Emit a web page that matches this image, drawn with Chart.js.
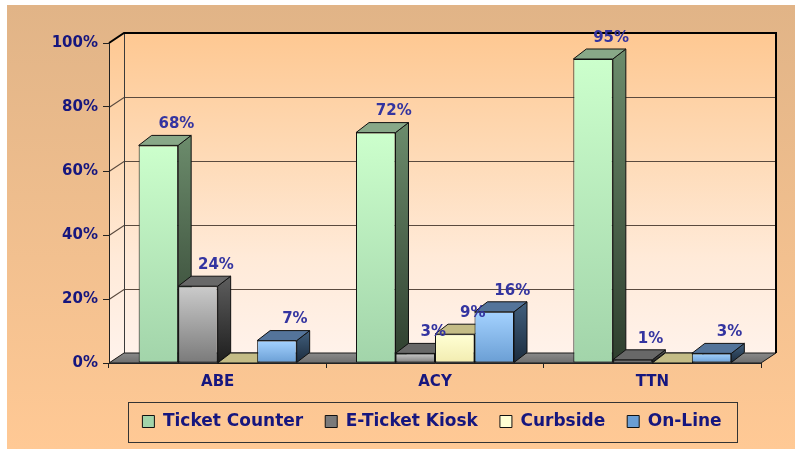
<!DOCTYPE html>
<html><head><meta charset="utf-8">
<script src="https://cdn.jsdelivr.net/npm/chart.js@4.4.1/dist/chart.umd.min.js"></script>
<style>html,body{margin:0;padding:0;background:#fff;overflow:hidden;}</style>
</head><body>
<canvas id="c" width="798" height="449" style="display:block;width:798px;height:449px"></canvas>
<script>
// ---- data ----
const categories = ['ABE', 'ACY', 'TTN'];
const seriesNames = ['Ticket Counter', 'E-Ticket Kiosk', 'Curbside', 'On-Line'];
const ticketCounter = [68, 72, 95];
const eTicketKiosk = [24, 3, 1];
const curbside = [0, 9, 0];
const onLine = [7, 16, 3];
const yTickValues = [0, 20, 40, 60, 80, 100];

// ---- styles ----
const NAVY = '#16167e';
const LABEL = '#3434a0';
const FONT = 'DejaVu Sans';
const styles = [
  {front: ['#CCFFCC', '#A2D4AA'], side: ['#6C8C6C', '#2E3E2E'], top: '#88A888', legend: '#C4F2C4'},
  {front: ['#CBCBCB', '#7A7A7A'], side: ['#5E5E5E', '#1E1E1E'], top: '#686868', legend: '#8E8E8E'},
  {front: ['#FFFFD4', '#F2ECB0'], side: ['#B4AC72', '#6E6A40'], top: '#C4BC86', legend: '#FFFFC4'},
  {front: ['#A4D2FF', '#6A9ED4'], side: ['#42607E', '#1C2C3E'], top: '#54749A', legend: '#7CB2E6'}
];
const WDX = 15, WDY = 10;   // wall depth
const BDX = 13, BDY = 10;   // bar depth

function frontFill(c, d) {
  const st = styles[d];
  if (c.type !== 'data') return st.legend;
  const chart = c.chart, ys = chart.scales.y;
  if (!ys || !chart.chartArea) return st.front[0];
  const top = ys.getPixelForValue(c.raw), bot = ys.getPixelForValue(0);
  if (bot - top < 1) return st.front[0];
  const g = chart.ctx.createLinearGradient(0, top, 0, bot);
  g.addColorStop(0, st.front[0]); g.addColorStop(1, st.front[1]);
  return g;
}

const seriesData = [ticketCounter, eTicketKiosk, curbside, onLine];
const datasets = seriesNames.map((name, d) => ({
  label: name,
  data: seriesData[d],
  backgroundColor: (c) => frontFill(c, d),
  borderColor: '#111',
  borderWidth: 1,
  borderSkipped: false,
  barPercentage: 1,
  categoryPercentage: 0.727
}));

const bgPlugin = {
  id: 'scene3d',
  beforeDraw(chart) {
    const ctx = chart.ctx, ca = chart.chartArea, ys = chart.scales.y;
    ctx.save();
    // page background
    const bg = ctx.createLinearGradient(0, 5, 0, 449);
    bg.addColorStop(0, '#E1B487'); bg.addColorStop(1, '#FFC995');
    ctx.fillStyle = bg;
    ctx.fillRect(7, 5, 788, 444);

    const y0 = ys.getPixelForValue(0), y100 = ys.getPixelForValue(100);
    const L = ca.left, R = ca.right;
    // back wall
    const wg = ctx.createLinearGradient(0, y100 - WDY, 0, y0 - WDY);
    wg.addColorStop(0, '#FEC892'); wg.addColorStop(0.4, '#FEDBB8');
    wg.addColorStop(0.7, '#FFEAD8'); wg.addColorStop(1, '#FFF2EA');
    ctx.fillStyle = wg;
    ctx.fillRect(L + WDX, y100 - WDY, R - L, y0 - y100);
    // left wall
    ctx.beginPath();
    ctx.moveTo(L, y100); ctx.lineTo(L + WDX, y100 - WDY);
    ctx.lineTo(L + WDX, y0 - WDY); ctx.lineTo(L, y0); ctx.closePath();
    ctx.fill();
    // gridlines
    ctx.lineWidth = 1.2;
    ctx.strokeStyle = '#5a4a3e';
    yTickValues.forEach(v => {
      if (v === 0 || v === 100) return;
      const yp = Math.round(ys.getPixelForValue(v)) + 0.5;
      ctx.beginPath();
      ctx.moveTo(L, yp); ctx.lineTo(L + WDX, yp - WDY); ctx.lineTo(R + WDX, yp - WDY);
      ctx.stroke();
    });
    // back wall left edge
    ctx.strokeStyle = '#3a3a3a';
    ctx.lineWidth = 1;
    ctx.beginPath();
    ctx.moveTo(L + WDX + 0.5, y100 - WDY); ctx.lineTo(L + WDX + 0.5, y0 - WDY);
    ctx.stroke();
    // floor
    const fg = ctx.createLinearGradient(0, y0 - WDY, 0, y0);
    fg.addColorStop(0, '#8a8a8a'); fg.addColorStop(1, '#6e6e6e');
    ctx.fillStyle = fg;
    ctx.beginPath();
    ctx.moveTo(L, y0); ctx.lineTo(R, y0); ctx.lineTo(R + WDX, y0 - WDY); ctx.lineTo(L + WDX, y0 - WDY);
    ctx.closePath(); ctx.fill();
    ctx.strokeStyle = '#1a1a1a';
    ctx.stroke();
    // top & right frame
    ctx.lineWidth = 2;
    ctx.strokeStyle = '#000';
    ctx.beginPath();
    ctx.moveTo(L, y100); ctx.lineTo(L + WDX, y100 - WDY); ctx.lineTo(R + WDX, y100 - WDY);
    ctx.lineTo(R + WDX, y0 - WDY);
    ctx.stroke();
    ctx.restore();
  },
  beforeDatasetsDraw(chart) {
    const ctx = chart.ctx;
    const n = chart.data.labels.length;
    for (let i = 0; i < n; i++) {
      for (let d = 0; d < chart.data.datasets.length; d++) {
        const el = chart.getDatasetMeta(d).data[i];
        if (!el) continue;
        const st = styles[d];
        const {x, y, base, width} = el.getProps(['x', 'y', 'base', 'width'], true);
        const l = x - width / 2, r = x + width / 2;
        ctx.save();
        if (base - y > 0.5) el.draw(ctx);
        ctx.lineWidth = 1;
        ctx.strokeStyle = '#111';
        // side face
        if (base - y > 0.5) {
          const sg = ctx.createLinearGradient(0, y - BDY, 0, base);
          sg.addColorStop(0, st.side[0]); sg.addColorStop(1, st.side[1]);
          ctx.fillStyle = sg;
          ctx.beginPath();
          ctx.moveTo(r, y); ctx.lineTo(r + BDX, y - BDY); ctx.lineTo(r + BDX, base - BDY); ctx.lineTo(r, base);
          ctx.closePath(); ctx.fill(); ctx.stroke();
        }
        // top face
        ctx.fillStyle = st.top;
        ctx.beginPath();
        ctx.moveTo(l, y); ctx.lineTo(l + BDX, y - BDY); ctx.lineTo(r + BDX, y - BDY); ctx.lineTo(r, y);
        ctx.closePath(); ctx.fill(); ctx.stroke();
        ctx.restore();
      }
    }
    return false;
  },
  afterLayout(chart) {
    const lg = chart.legend;
    if (!lg) return;
    const w = lg.right - lg.left;
    const cx = chart.chartArea.left + (chart.chartArea.right - chart.chartArea.left) / 2 - 3;
    lg.left = cx - w / 2; lg.right = cx + w / 2;
  },
  afterDraw(chart) {
    const ctx = chart.ctx;
    ctx.save();
    // data labels
    ctx.font = 'bold 15px "' + FONT + '"';
    ctx.fillStyle = LABEL;
    ctx.textAlign = 'center';
    ctx.textBaseline = 'middle';
    chart.data.datasets.forEach((ds, d) => {
      chart.getDatasetMeta(d).data.forEach((el, i) => {
        const v = ds.data[i];
        if (!v) return;
        ctx.fillText(v + '%', el.x + 18, el.y - BDY - 11);
      });
    });
    // legend frame
    const lg = chart.legend;
    const cx = (lg.left + lg.right) / 2;
    ctx.strokeStyle = '#333';
    ctx.lineWidth = 1;
    ctx.strokeRect(Math.round(cx - 304) + 0.5, lg.top + 11.5, 609, 40);
    ctx.restore();
  }
};

Chart.defaults.font.family = FONT;
new Chart(document.getElementById('c'), {
  type: 'bar',
  data: {labels: categories, datasets},
  options: {
    responsive: false,
    animation: false,
    devicePixelRatio: 1,
    layout: {padding: {top: 43, right: 37, bottom: 9, left: 0}},
    scales: {
      x: {
        offset: true,
        grid: {display: true, drawOnChartArea: false, drawTicks: true, tickLength: 5, color: '#222', offset: true},
        border: {display: true, color: '#222', width: 1},
        ticks: {color: NAVY, font: {family: FONT, weight: 'bold', size: 15}, padding: 5},
        afterFit: s => { s.height = 28; }
      },
      y: {
        min: 0, max: 100,
        afterBuildTicks: s => { s.ticks = yTickValues.map(v => ({value: v})); },
        grid: {display: true, drawOnChartArea: false, drawTicks: true, tickLength: 6, color: '#222'},
        border: {display: true, color: '#222', width: 1},
        ticks: {callback: v => v + '%', color: NAVY, font: {family: FONT, weight: 'bold', size: 15}, padding: 5},
        afterFit: s => { s.width = 109; }
      }
    },
    plugins: {
      legend: {
        position: 'bottom',
        labels: {
          color: NAVY,
          font: {family: FONT, weight: 'bold', size: 17},
          boxWidth: 12, boxHeight: 12, padding: 22
        }
      },
      tooltip: {enabled: false}
    }
  },
  plugins: [bgPlugin]
});
</script>
</body></html>
